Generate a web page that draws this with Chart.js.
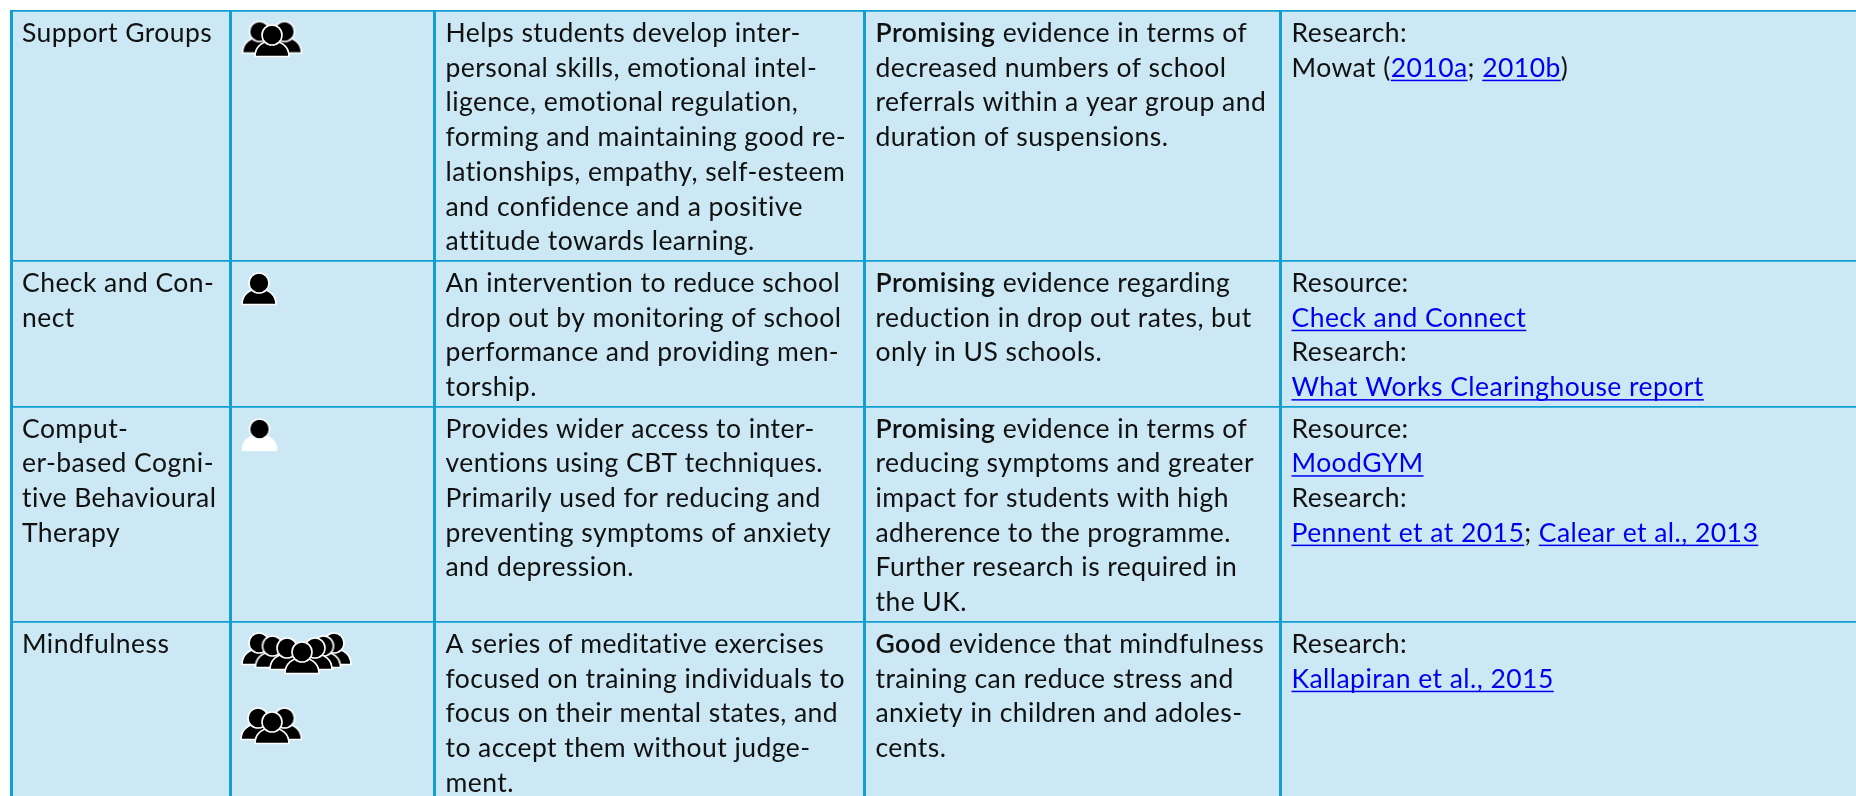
<!DOCTYPE html>
<html>
<head>
<meta charset="utf-8">
<style>
  html, body { margin: 0; padding: 0; background: #fff; overflow: hidden; }
  #wrap { width: 1856px; height: 796px; }
</style>
</head>
<body>
<div id="wrap"><canvas id="tbl" width="1856" height="796"></canvas></div>
<script src="https://cdn.jsdelivr.net/npm/chart.js@4.4.1/dist/chart.umd.min.js"></script>
<script>
// ** = bold run, [] = link run
const nameCol = [
  ['Support Groups'],
  ['Check and Con-', 'nect'],
  ['Comput-', 'er-based Cogni-', 'tive Behavioural', 'Therapy'],
  ['Mindfulness'],
];
const whatCol = [
  ['Helps students develop inter-', 'personal skills, emotional intel-', 'ligence, emotional regulation,', 'forming and maintaining good re-', 'lationships, empathy, self-esteem', 'and confidence and a positive', 'attitude towards learning.'],
  ['An intervention to reduce school', 'drop out by monitoring of school', 'performance and providing men-', 'torship.'],
  ['Provides wider access to inter-', 'ventions using CBT techniques.', 'Primarily used for reducing and', 'preventing symptoms of anxiety', 'and depression.'],
  ['A series of meditative exercises', 'focused on training individuals to', 'focus on their mental states, and', 'to accept them without judge-', 'ment.'],
];
const evidenceCol = [
  ['**Promising** evidence in terms of', 'decreased numbers of school', 'referrals within a year group and', 'duration of suspensions.'],
  ['**Promising** evidence regarding', 'reduction in drop out rates, but', 'only in US schools.'],
  ['**Promising** evidence in terms of', 'reducing symptoms and greater', 'impact for students with high', 'adherence to the programme.', 'Further research is required in', 'the UK.'],
  ['**Good** evidence that mindfulness', 'training can reduce stress and', 'anxiety in children and adoles-', 'cents.'],
];
const sourceCol = [
  ['Research:', 'Mowat ([2010a]; [2010b])'],
  ['Resource:', '[Check and Connect]', 'Research:', '[What Works Clearinghouse report]'],
  ['Resource:', '[MoodGYM]', 'Research:', '[Pennent et at 2015]; [Calear et al., 2013]'],
  ['Research:', '[Kallapiran et al., 2015]'],
];

// table rules on the scales
const colEdges = [11.5, 230, 434, 864, 1280];
const rowEdges = [11, 261, 406.5, 622];

// person icons, head position per person, back to front
const blackX = [259.5, 284.5, 272, 259, 259, 334, 272.5, 323.5, 287, 315, 302, 258, 284.5, 272];
const blackY = [31.5, 31.5, 35, 283, 643, 643, 646, 646, 648, 648, 652, 718, 718, 722];
const whiteX = [259.5];
const whiteY = [429];

const BG = '#cbe8f4';
const RULE = '#0f9fd2';
const INK = '#111111';
const LINK = '#0000ee';
const FONT = 'Lato, sans-serif';
const SIZE = 26.5;
const TRACKING = '0.45px';
const LINE_H = 34.7;
const INSET = 11.5;
const FIRST_BASE = 31;

function person(bodyColor) {
  const c = document.createElement('canvas');
  c.width = 64;
  c.height = 64;
  const g = c.getContext('2d');
  g.translate(32, 32);
  g.lineWidth = 1.6;
  g.strokeStyle = '#ffffff';
  g.fillStyle = bodyColor;
  g.beginPath();
  g.moveTo(-17, 21.5);
  g.bezierCurveTo(-17, 12, -10, 6, 0, 6);
  g.bezierCurveTo(10, 6, 17, 12, 17, 21.5);
  g.closePath();
  g.fill();
  g.stroke();
  g.fillStyle = '#000000';
  g.beginPath();
  g.arc(0, 0, 10, 0, Math.PI * 2);
  g.fill();
  g.stroke();
  return c;
}

function parseLine(line) {
  const runs = [];
  const re = /\*\*(.+?)\*\*|\[(.+?)\]|([^*\[]+)/g;
  let m;
  while ((m = re.exec(line))) {
    if (m[1]) runs.push({ t: m[1], bold: true });
    else if (m[2]) runs.push({ t: m[2], link: true });
    else runs.push({ t: m[3] });
  }
  return runs;
}

function drawCell(ctx, lines, x, y) {
  lines.forEach((line, i) => {
    const base = y + FIRST_BASE + i * LINE_H;
    let cx = x;
    parseLine(line).forEach(run => {
      ctx.font = (run.bold ? '600 ' : '400 ') + SIZE + 'px ' + FONT;
      ctx.letterSpacing = TRACKING;
      ctx.fillStyle = run.link ? LINK : INK;
      ctx.fillText(run.t, cx, base);
      const w = ctx.measureText(run.t).width;
      if (run.link) ctx.fillRect(cx, base + 3, w, 1.5);
      cx += w;
    });
  });
}

const tablePlugin = {
  id: 'tablePlugin',
  beforeDraw(chart) {
    const a = chart.chartArea;
    chart.ctx.fillStyle = BG;
    chart.ctx.fillRect(a.left, a.top, a.right - a.left, a.bottom - a.top);
  },
  afterDatasetsDraw(chart) {
    const ctx = chart.ctx;
    const sx = chart.scales.x;
    const sy = chart.scales.y;
    ctx.save();
    ctx.textBaseline = 'alphabetic';
    ctx.textAlign = 'left';
    rowEdges.forEach((edge, r) => {
      const top = sy.getPixelForValue(edge);
      drawCell(ctx, nameCol[r], sx.getPixelForValue(colEdges[0]) + INSET - 1, top);
      drawCell(ctx, whatCol[r], sx.getPixelForValue(colEdges[2]) + INSET, top);
      drawCell(ctx, evidenceCol[r], sx.getPixelForValue(colEdges[3]) + INSET, top);
      drawCell(ctx, sourceCol[r], sx.getPixelForValue(colEdges[4]) + INSET, top);
    });
    ctx.restore();
  },
};

function toPoints(xs, ys) {
  return xs.map((x, i) => ({ x, y: ys[i] }));
}

new Chart(document.getElementById('tbl'), {
  type: 'scatter',
  data: {
    datasets: [
      { data: toPoints(whiteX, whiteY), pointStyle: person('#ffffff'), pointRadius: 32, clip: false },
      { data: toPoints(blackX, blackY), pointStyle: person('#000000'), pointRadius: 32, clip: false },
    ],
  },
  options: {
    responsive: false,
    animation: false,
    events: [],
    layout: { autoPadding: false, padding: { left: 10, top: 10, right: 0, bottom: 0 } },
    plugins: { legend: { display: false }, tooltip: { enabled: false } },
    scales: {
      x: {
        type: 'linear',
        min: 10,
        max: 1856,
        afterBuildTicks: s => { s.ticks = colEdges.map(value => ({ value })); },
        ticks: { display: false },
        border: { display: false },
        grid: { color: RULE, lineWidth: 3, drawTicks: false },
      },
      y: {
        type: 'linear',
        reverse: true,
        min: 10,
        max: 796,
        afterBuildTicks: s => { s.ticks = rowEdges.map(value => ({ value })); },
        ticks: { display: false },
        border: { display: false },
        grid: { color: RULE, lineWidth: 1.7, drawTicks: false },
      },
    },
  },
  plugins: [tablePlugin],
});
</script>
</body>
</html>
